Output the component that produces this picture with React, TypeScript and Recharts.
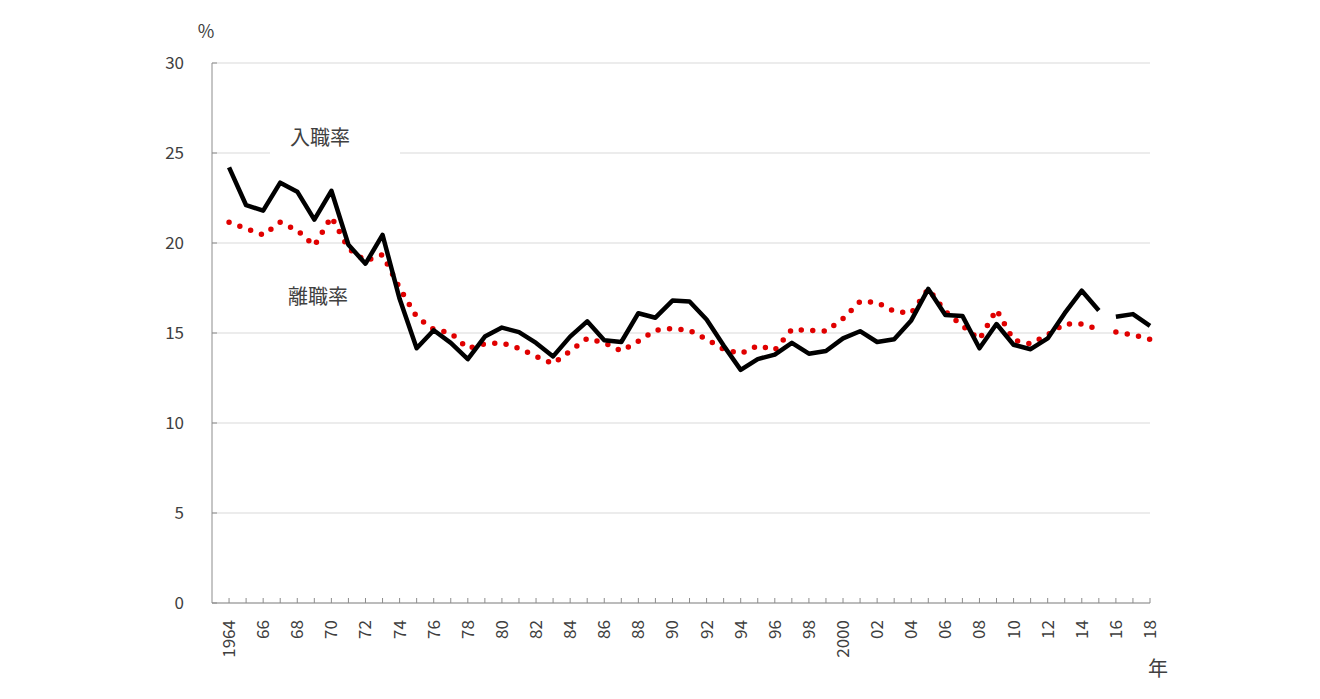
import { LineChart, Line, XAxis, YAxis, CartesianGrid } from 'recharts'

// Entry / separation rate by year, 1964-2018 (%)
const YEARS = [
  1964, 1965, 1966, 1967, 1968, 1969, 1970, 1971, 1972, 1973, 1974, 1975, 1976, 1977, 1978, 1979,
  1980, 1981, 1982, 1983, 1984, 1985, 1986, 1987, 1988, 1989, 1990, 1991, 1992, 1993, 1994, 1995,
  1996, 1997, 1998, 1999, 2000, 2001, 2002, 2003, 2004, 2005, 2006, 2007, 2008, 2009, 2010, 2011,
  2012, 2013, 2014, 2015, 2016, 2017, 2018,
]

const ENTRY_RATE = [
  24.2, 22.1, 21.8, 23.35, 22.85, 21.3, 22.9, 19.9, 18.85, 20.45, 16.9, 14.15, 15.15, 14.45, 13.55, 14.8,
  15.3, 15.05, 14.45, 13.7, 14.8, 15.65, 14.6, 14.5, 16.1, 15.85, 16.8, 16.75, 15.75, 14.3, 12.95, 13.55,
  13.8, 14.45, 13.85, 14.0, 14.7, 15.1, 14.5, 14.65, 15.7, 17.45, 16.0, 15.95, 14.15, 15.5, 14.35, 14.1,
  14.7, 16.1, 17.35, 16.25, 15.9, 16.05, 15.4,
]

const SEPARATION_RATE = [
  21.15, 20.8, 20.45, 21.15, 20.7, 19.85, 21.45, 19.7, 19.0, 19.35, 17.5, 15.9, 15.2, 15.0, 14.15, 14.4,
  14.45, 14.15, 13.7, 13.3, 14.0, 14.7, 14.45, 14.0, 14.55, 15.15, 15.25, 15.15, 14.65, 14.1, 13.85, 14.3,
  14.05, 15.2, 15.15, 15.1, 15.8, 16.75, 16.7, 16.2, 16.1, 17.45, 16.2, 15.4, 14.65, 16.3, 14.6, 14.4,
  14.9, 15.5, 15.5, 15.2, 15.05, 14.9, 14.65,
]

const Y_TICKS = [0, 5, 10, 15, 20, 25, 30]

// series break between 2015 and 2016
const BREAK_YEAR = 2015

const data = YEARS.map((year, i) => ({
  year,
  entry: ENTRY_RATE[i],
  separation: SEPARATION_RATE[i],
}))

const FONT = '"Noto Sans CJK JP", "Noto Sans", sans-serif'
const TEXT_COLOR = '#404040'
const AXIS_COLOR = '#8c8c8c'
const RED = '#e00000'

function XTick(props: any) {
  const { x, y, payload } = props
  const year: number = payload.value
  const label = year === 1964 || year === 2000 ? String(year) : String(year % 100).padStart(2, '0')
  const ty = y + 17
  return (
    <g>
      <line x1={x} x2={x} y1={y} y2={y - 5} stroke={AXIS_COLOR} strokeWidth={1} />
      {year % 2 === 0 && (
        <text
          x={x}
          y={ty}
          transform={`rotate(-90, ${x}, ${ty})`}
          textAnchor="end"
          dy="0.35em"
          fontSize={17}
          fill={TEXT_COLOR}
          fontFamily={FONT}
        >
          {label}
        </text>
      )}
    </g>
  )
}

function YTick(props: any) {
  const { x, y, payload } = props
  return (
    <g>
      <line x1={x} x2={x + 5} y1={y} y2={y} stroke={AXIS_COLOR} strokeWidth={1} />
      <text x={x - 28} y={y} dy="0.35em" textAnchor="end" fontSize={17} fill={TEXT_COLOR} fontFamily={FONT}>
        {payload.value}
      </text>
    </g>
  )
}

const labelStyle: React.CSSProperties = {
  position: 'absolute',
  transform: 'translate(-50%, -50%)',
  fontFamily: FONT,
  color: TEXT_COLOR,
  whiteSpace: 'nowrap',
  lineHeight: 1,
}

export default function App() {
  return (
    <div style={{ position: 'relative', width: 1312, height: 691, background: '#fff' }}>
      <LineChart width={1312} height={691} data={data} margin={{ top: 55, right: 170, bottom: 36, left: 0 }}>
        <CartesianGrid horizontal vertical={false} stroke="#d9d9d9" />
        <XAxis
          dataKey="year"
          type="number"
          domain={[1963, 2018]}
          ticks={YEARS}
          interval={0}
          height={60}
          axisLine={{ stroke: AXIS_COLOR }}
          tickLine={false}
          tickSize={0}
          tickMargin={0}
          tick={<XTick />}
        />
        <YAxis
          domain={[0, 30]}
          ticks={Y_TICKS}
          width={204}
          axisLine={{ stroke: AXIS_COLOR }}
          tickLine={false}
          tickSize={0}
          tickMargin={0}
          tick={<YTick />}
        />
        <Line
          dataKey={(d: any) => (d.year <= BREAK_YEAR ? d.separation : null)}
          stroke={RED}
          strokeWidth={5.5}
          strokeDasharray="0 11.5"
          strokeLinecap="round"
          dot={false}
          isAnimationActive={false}
        />
        <Line
          dataKey={(d: any) => (d.year > BREAK_YEAR ? d.separation : null)}
          stroke={RED}
          strokeWidth={5.5}
          strokeDasharray="0 11.5"
          strokeLinecap="round"
          dot={false}
          isAnimationActive={false}
        />
        <Line
          dataKey={(d: any) => (d.year <= BREAK_YEAR ? d.entry : null)}
          stroke="#000"
          strokeWidth={4.5}
          strokeLinejoin="round"
          dot={false}
          isAnimationActive={false}
        />
        <Line
          dataKey={(d: any) => (d.year > BREAK_YEAR ? d.entry : null)}
          stroke="#000"
          strokeWidth={4.5}
          strokeLinejoin="round"
          dot={false}
          isAnimationActive={false}
        />
      </LineChart>
      <div style={{ position: 'absolute', left: 262, top: 110, width: 130, height: 44, background: '#fff' }} />
      <span style={{ ...labelStyle, left: 312, top: 129, fontSize: 20 }}>入職率</span>
      <span style={{ ...labelStyle, left: 310, top: 288, fontSize: 20 }}>離職率</span>
      <span style={{ ...labelStyle, left: 198, top: 22, fontSize: 18 }}>%</span>
      <span style={{ ...labelStyle, left: 1150, top: 660, fontSize: 20 }}>年</span>
    </div>
  )
}
